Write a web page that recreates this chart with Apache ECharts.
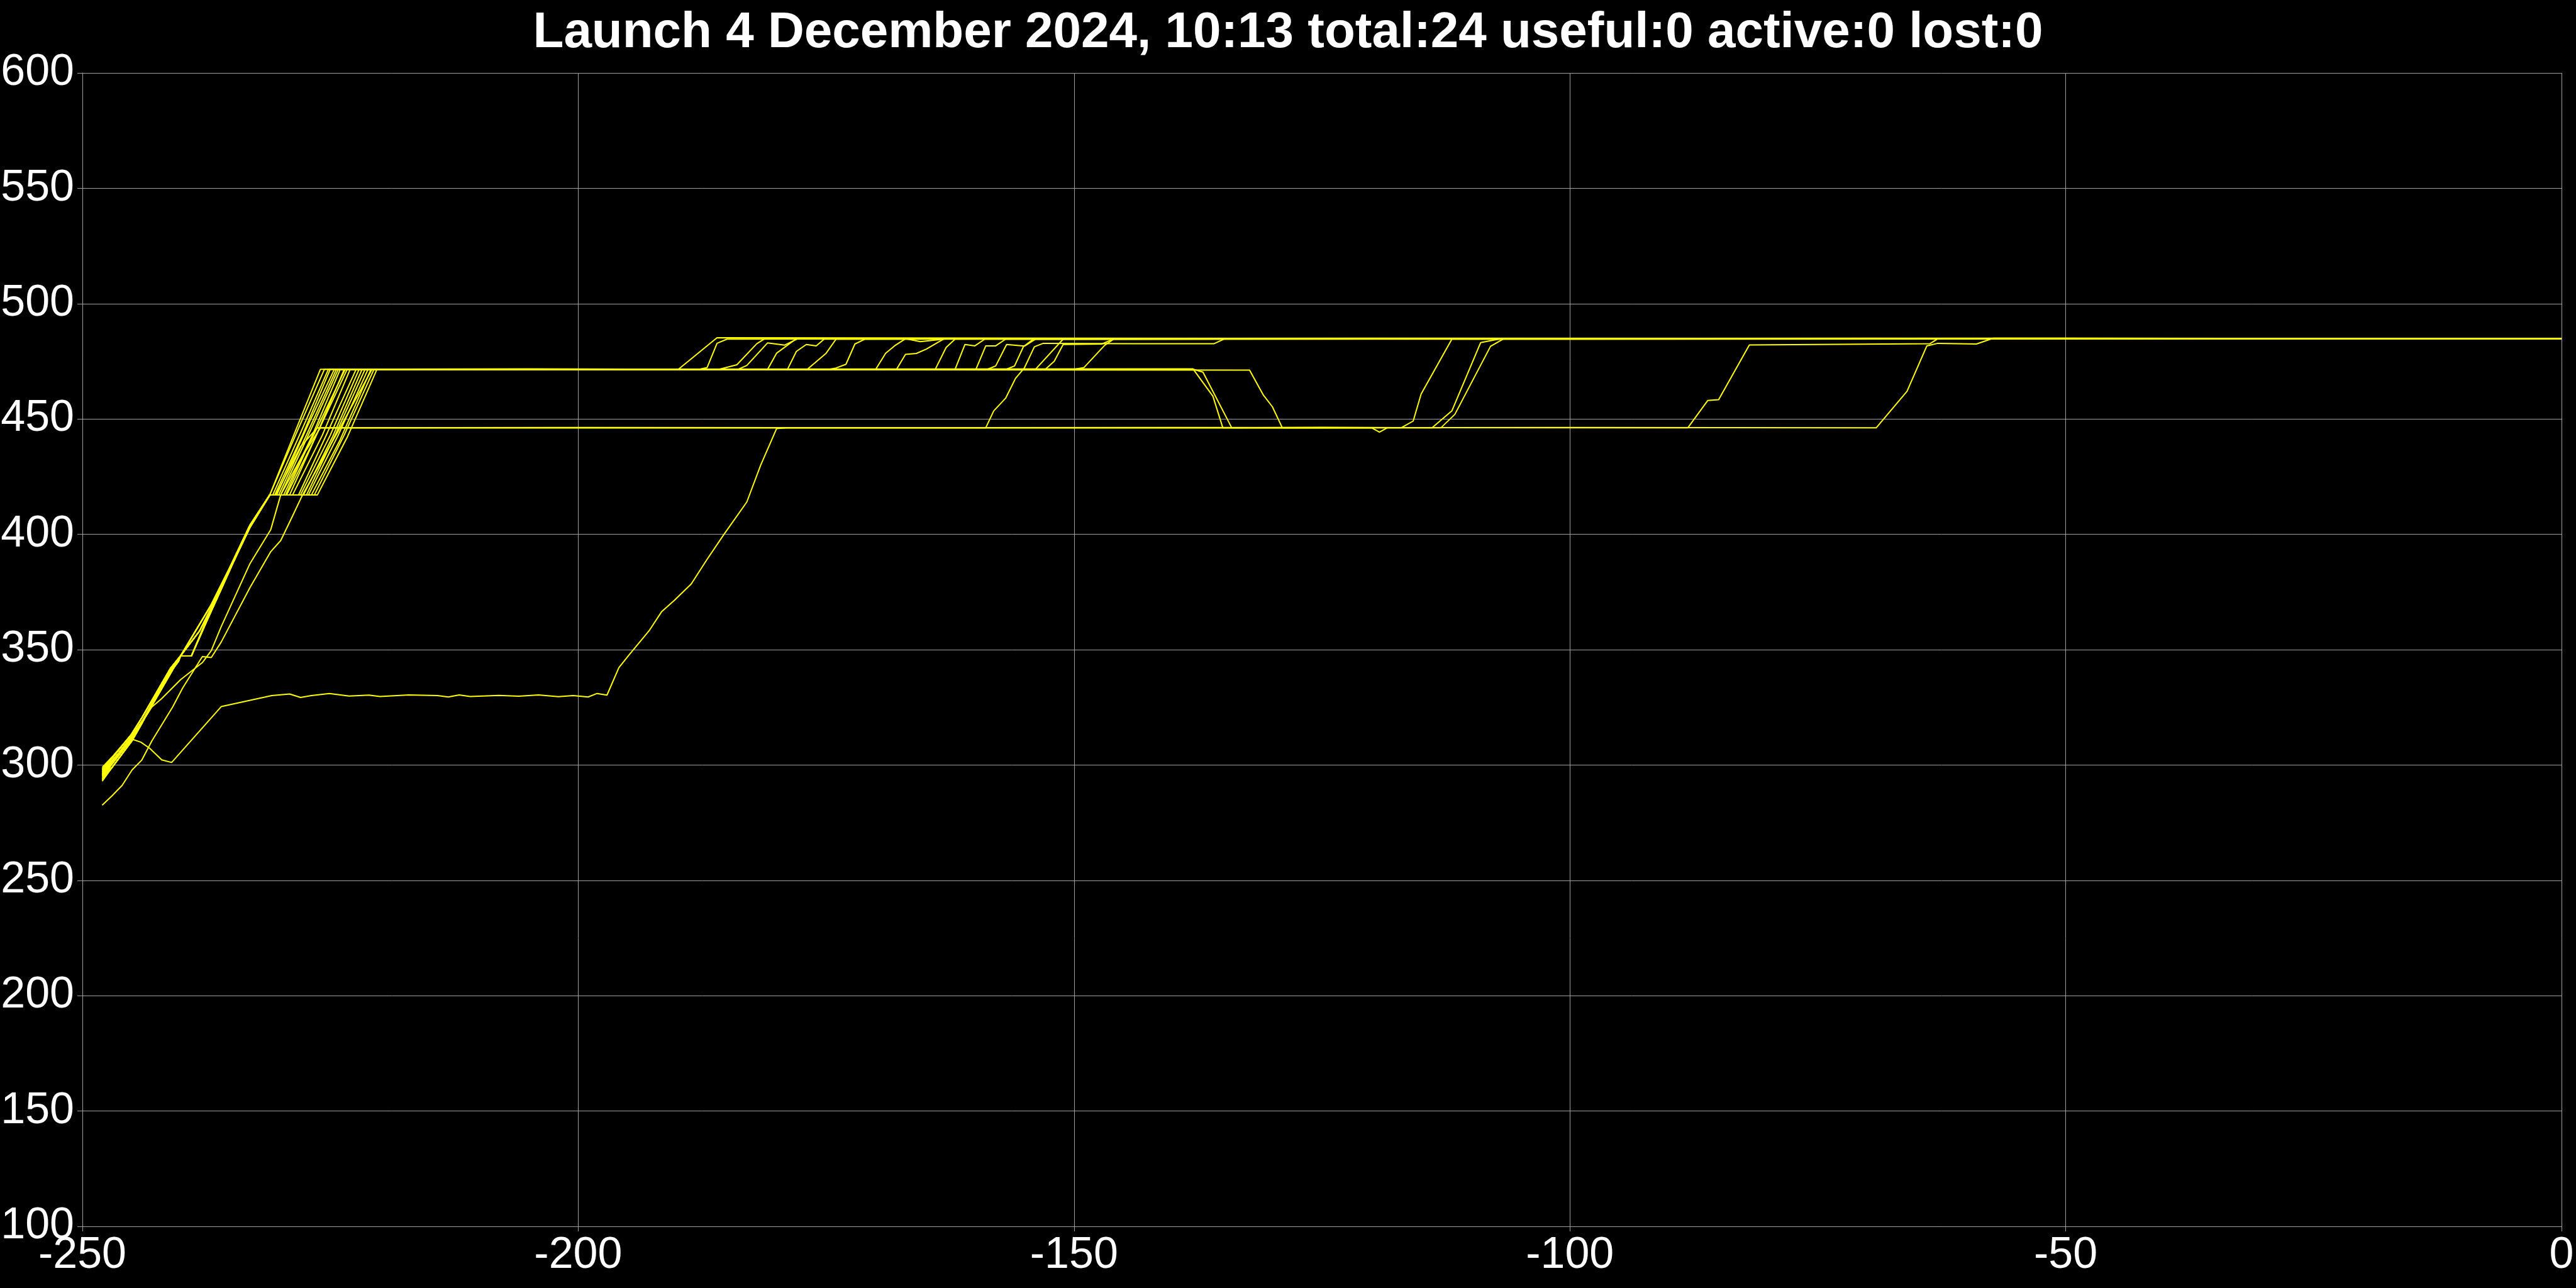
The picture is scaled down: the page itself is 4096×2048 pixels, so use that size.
<!DOCTYPE html>
<html>
<head>
<meta charset="utf-8">
<script src="https://cdn.jsdelivr.net/npm/echarts@6/dist/echarts.min.js"></script>
<style>
html,body{margin:0;padding:0;background:#000;}
#chart{width:4096px;height:2048px;}
</style>
</head>
<body>
<div id="chart"></div>
<script>
// ---- chart text and axes ----
const titleText = 'Launch 4 December 2024, 10:13 total:24 useful:0 active:0 lost:0';
const xRange = [-250, 0];
const xStep = 50;
const yRange = [100, 600];
const yStep = 50;

// ---- tracks: [x, y] ----
const s01 = [[-248,298.5],[-247,303],[-245.1,313],[-244,320.5],[-241.1,342],[-240.1,347.3],[-237,369.5],[-235.2,385],[-233.1,404],[-231.1,417.1],[-228.5,445],[-226.0,471.5],[-205,471.7],[-189.9,471.5],[-186.0,485.2],[-150,485.0],[-100,484.8],[-50,485.0],[0,484.8]];
const s02 = [[-248,294],[-247,300.5],[-245,311.5],[-243.9,319],[-241,340.5],[-240.1,347.3],[-239,347.3],[-236.9,368.8],[-235.2,384.3],[-233.1,403.6],[-231.1,417.1],[-231.0,417.1],[-228.2,446],[-225.6,471.5],[-187.8,471.5],[-187.0,472.3],[-186.0,482.8],[-185.0,484.6],[-140,484.9],[-80,484.7],[0,484.8]];
const s03 = [[-248,296],[-247,301.5],[-245.1,312],[-243.9,319.5],[-241.5,338],[-240.3,345],[-240.1,347.3],[-238.2,358],[-236.9,369],[-235,386],[-233.1,403],[-231.1,417.1],[-230.8,417.1],[-228.0,444],[-225.2,471.5],[-185.8,471.5],[-184.0,473.5],[-182.0,482.6],[-181.2,484.8],[-120,485.0],[0,484.8]];
const s04 = [[-248,298],[-247,303],[-245.1,313],[-244,320.5],[-241.1,342],[-240.1,347.3],[-237,369.5],[-235.2,385],[-233.1,404],[-231.1,417.1],[-230.6,417.1],[-227.8,443],[-225.0,471.6],[-183.9,471.5],[-183.0,473.2],[-180.9,483],[-179.2,482],[-177.8,484.9],[-90,484.7],[0,484.9]];
const s05 = [[-248,293.5],[-247,299],[-245,310.5],[-244,318],[-241.8,336.5],[-240.1,347.3],[-239,347.3],[-237.5,362],[-235.5,381],[-233.4,401],[-231.1,417.1],[-230.4,417.1],[-227.4,446],[-224.6,471.5],[-180.9,471.5],[-180.0,478.5],[-178.0,484.8],[-60,484.8],[0,484.7]];
const s06 = [[-248,295],[-247,300.5],[-245,311.5],[-243.9,319],[-241,340.5],[-240.1,347.3],[-239,347.3],[-236.9,368.8],[-235.2,384.3],[-233.1,403.6],[-231.1,417.1],[-230.2,417.1],[-227.3,444],[-224.4,471.4],[-178.9,471.5],[-178.0,479.3],[-177.0,482.3],[-176.0,481.7],[-175.2,484.6],[-110,484.9],[0,484.8]];
const s07 = [[-248,297],[-247,301.5],[-245.1,312],[-243.9,319.5],[-241.5,338],[-240.3,345],[-240.1,347.3],[-238.2,358],[-236.9,369],[-235,386],[-233.1,403],[-231.1,417.1],[-230.0,417.1],[-227.0,445],[-224.2,471.5],[-176.9,471.5],[-175.0,478.5],[-174.0,484.6],[-70,485.0],[0,484.8]];
const s08 = [[-248,299],[-247,303.5],[-245.1,313],[-244,320.5],[-241.1,342],[-240.1,347.3],[-237,369.5],[-235.2,385],[-233.1,404],[-231.1,417.1],[-229.7,417.1],[-226.8,443],[-224.0,471.5],[-174.6,471.6],[-174.0,472.1],[-173.0,473.7],[-172.1,482.5],[-171.1,484.6],[-130,484.8],[0,484.9]];
const s09 = [[-248,294.5],[-247,299],[-245,310.5],[-244,318],[-241.8,336.5],[-240.1,347.3],[-239,347.3],[-237.5,362],[-235.5,381],[-233.4,401],[-231.1,417.1],[-229.4,417.1],[-226.5,442],[-223.6,471.5],[-170.0,471.5],[-169.0,478.5],[-168.1,481.7],[-167.0,484.8],[-165.5,483.5],[-163.0,484.7],[-50,484.8],[0,484.8]];
const s10 = [[-248,296.5],[-247,300.5],[-245,311.5],[-243.9,319],[-241,340.5],[-240.1,347.3],[-239,347.3],[-236.9,368.8],[-235.2,384.3],[-233.1,403.6],[-231.1,417.1],[-229.1,417.1],[-226.3,444],[-223.3,471.5],[-167.9,471.5],[-167.0,478.0],[-165.9,478.4],[-164.9,480.3],[-163.1,484.8],[-100,484.6],[0,484.8]];
const s11 = [[-248,295.5],[-247,301.5],[-245.1,312],[-243.9,319.5],[-241.5,338],[-240.3,345],[-240.1,347.3],[-238.2,358],[-236.9,369],[-235,386],[-233.1,403],[-231.1,417.1],[-228.8,417.1],[-225.8,443],[-223.0,471.5],[-164.0,471.5],[-162.9,481],[-162.0,484.6],[-40,484.9],[0,484.8]];
const s12 = [[-248,296],[-247,302],[-245,312],[-243.9,319],[-243,325.1],[-242,328.8],[-240.1,337],[-237.9,344.4],[-237,349.6],[-236,360],[-233.1,387.3],[-231,402.1],[-230,417.1],[-226.8,442],[-223.5,471.5],[-162.0,471.5],[-161.0,482.3],[-160.0,481.7],[-159.0,484.6],[-80,484.8],[0,484.8]];
const s13 = [[-248,297.5],[-247,303],[-245.1,313],[-244,320.5],[-241.1,342],[-240.1,347.3],[-237,369.5],[-235.2,385],[-233.1,404],[-231.1,417.1],[-228.2,417.1],[-225.3,444],[-222.4,471.5],[-159.9,471.5],[-158.9,481.7],[-157.9,481.7],[-156.9,484.6],[-20,484.8],[0,484.8]];
const s14 = [[-248,293],[-247,299],[-245,310.5],[-244,318],[-241.8,336.5],[-240.1,347.3],[-239,347.3],[-237.5,362],[-235.5,381],[-233.4,401],[-231.1,417.1],[-228.0,417.1],[-225.0,443],[-222.1,471.5],[-158.7,471.6],[-157.9,473],[-156.8,482.3],[-155.0,481.6],[-153.9,484.6],[-75,484.9],[0,484.8]];
const s15 = [[-248,294],[-247,300.5],[-245,311.5],[-243.9,319],[-241,340.5],[-240.1,347.3],[-239,347.3],[-236.9,368.8],[-235.2,384.3],[-233.1,403.6],[-231.1,417.1],[-227.7,417.1],[-224.8,442],[-221.8,471.5],[-156.8,471.6],[-156.0,473],[-155.1,481.4],[-154.1,484.6],[-30,484.7],[0,484.8]];
const s16 = [[-248,296],[-247,301.5],[-245.1,312],[-243.9,319.5],[-241.5,338],[-240.3,345],[-240.1,347.3],[-238.2,358],[-236.9,369],[-235,386],[-233.1,403],[-231.1,417.1],[-227.4,417.1],[-224.4,444],[-221.5,471.5],[-153.9,471.5],[-151.1,484.6],[-95,484.9],[0,484.8]];
const s17 = [[-248,298],[-247,303],[-245.1,313],[-244,320.5],[-241.1,342],[-240.1,347.3],[-237,369.5],[-235.2,385],[-233.1,404],[-231.1,417.1],[-227.2,417.1],[-224.2,443],[-221.2,471.5],[-152.9,471.5],[-152.0,475],[-151.1,482.3],[-147.2,482.5],[-146.0,484.7],[-55,484.8],[0,484.9]];
const s18 = [[-248,295],[-247,299],[-245,310.5],[-244,318],[-241.8,336.5],[-240.1,347.3],[-239,347.3],[-237.5,362],[-235.5,381],[-233.4,401],[-231.1,417.1],[-226.9,417.1],[-224.0,441],[-220.9,471.5],[-150.0,471.5],[-149.0,472.3],[-146.9,482],[-146.0,484.6],[-65,484.8],[0,484.8]];
const s19 = [[-248,295.5],[-247,300.5],[-245,311.5],[-243.9,319],[-241,340.5],[-240.1,347.3],[-239,347.3],[-236.9,368.8],[-235.2,384.3],[-233.1,403.6],[-231.1,417.1],[-226.6,417.1],[-223.6,443],[-220.6,471.5],[-138.0,471.7],[-136.0,459.9],[-135.0,446.2],[-125,446.4],[-113.9,446.2],[-111.9,453.5],[-109.0,483.1],[-107.1,484.7],[-45,484.8],[0,484.8]];
const s20 = [[-248,297],[-247,301.5],[-245.1,312],[-243.9,319.5],[-241.5,338],[-240.3,345],[-240.1,347.3],[-238.2,358],[-236.9,369],[-235,386],[-233.1,403],[-231.1,417.1],[-226.3,417.1],[-223.3,442],[-220.3,471.5],[-138.0,471.6],[-137.0,470.3],[-134.1,446.2],[-113.0,446.2],[-111.6,452],[-108.0,481.5],[-106.7,484.7],[-35,484.9],[0,484.8]];
const s21 = [[-248,282.6],[-247,286.7],[-246,291.1],[-245,297.8],[-244,302.2],[-243,310.4],[-240.9,325.1],[-239.9,333.3],[-237.9,347],[-237,346.6],[-236,353.3],[-233.1,376.9],[-231,392.5],[-230,397.3],[-228.8,408],[-227.8,417.1],[-224.3,444],[-220.8,471.5],[-132.3,471.2],[-130.9,460.3],[-130.0,455.3],[-129.0,446.2],[-100,446.3],[-69.1,446.2],[-66.0,462],[-64.0,481.7],[-62.9,482.8],[-59.0,482.5],[-57.3,485],[0,484.8]];
const s22 = [[-248,293.5],[-247,299],[-245,310.5],[-244,318],[-241.8,336.5],[-240.1,347.3],[-239,347.3],[-237.5,362],[-235.5,381],[-233.4,401],[-231.1,417.1],[-229.5,417.1],[-227.5,436],[-226.0,446.2],[-200,446.3],[-158.9,446.2],[-158.1,453.5],[-156.9,459],[-155.9,467.6],[-155.0,472.2],[-154.0,481.3],[-153.1,482.8],[-144,482.6],[-135.9,482.6],[-134.8,484.8],[0,484.8]];
const s23 = [[-248,297],[-247,303],[-245.1,313],[-244,320.5],[-241.1,342],[-240.1,347.3],[-237,369.5],[-235.2,385],[-233.1,404],[-231.1,417.1],[-230.5,417.1],[-228.0,438],[-226.3,446.2],[-170,446.1],[-120.0,446.2],[-119.2,444.3],[-118.4,446.2],[-117.0,446.2],[-115.8,449.1],[-115.0,460.8],[-111.9,484.6],[-25,484.8],[0,484.8]];
const s24 = [[-248,297],[-247,302],[-245.05,311.3],[-244.1,309.9],[-243.2,307.2],[-242.0,302.2],[-241.0,301.1],[-236.0,325.3],[-230.9,330.1],[-229.1,330.8],[-228.0,329.3],[-226.9,330.1],[-225.1,331.0],[-223.1,329.9],[-221.1,330.3],[-220.0,329.7],[-217.1,330.4],[-214.2,330.1],[-213.1,329.5],[-212.0,330.4],[-210.9,329.7],[-208,330.2],[-206,329.8],[-204,330.4],[-202,329.6],[-200.5,330.1],[-199.0,329.5],[-198.1,331.0],[-197.1,330.3],[-195.9,342.2],[-194.9,347.6],[-192.8,358.5],[-191.6,366.4],[-190.3,371.4],[-188.6,378.5],[-187,389.2],[-185.3,400],[-183.0,414],[-181.6,430],[-180.0,445.8],[-179.0,446.2],[-140,446.3],[-88.1,446.2],[-86.1,458],[-85.0,458.4],[-81.9,482.1],[-63.7,482.6],[-62.9,484.8],[0,484.8]];

const tracks = [s01,s02,s03,s04,s05,s06,s07,s08,s09,s10,s11,s12,s13,s14,s15,s16,s17,s18,s19,s20,s21,s22,s23,s24];

const chart = echarts.init(document.getElementById('chart'), null, {renderer: 'canvas'});
const gridColor = '#a0a0a0';
const labelFont = {color: '#ffffff', fontSize: 70, fontFamily: 'Liberation Sans'};

chart.setOption({
  backgroundColor: '#000000',
  animation: false,
  title: {
    text: titleText,
    left: 'center',
    top: 8,
    textStyle: {color: '#ffffff', fontSize: 80, fontWeight: 'bold', fontFamily: 'Liberation Sans'}
  },
  grid: {left: 131, right: 23, top: 116, bottom: 98, containLabel: false, outerBoundsMode: 'none'},
  xAxis: {
    type: 'value', min: xRange[0], max: xRange[1], interval: xStep,
    axisLine: {show: true, onZero: false, lineStyle: {color: gridColor, width: 1}},
    axisTick: {show: true, length: 8, lineStyle: {color: gridColor, width: 1}},
    splitLine: {show: true, lineStyle: {color: gridColor, width: 1}},
    axisLabel: Object.assign({margin: 12}, labelFont)
  },
  yAxis: {
    type: 'value', min: yRange[0], max: yRange[1], interval: yStep,
    axisLine: {show: true, onZero: false, lineStyle: {color: gridColor, width: 1}},
    axisTick: {show: true, length: 8, lineStyle: {color: gridColor, width: 1}},
    splitLine: {show: true, lineStyle: {color: gridColor, width: 1}},
    axisLabel: Object.assign({margin: 13}, labelFont)
  },
  series: tracks.map((t, i) => ({
    name: 'track ' + (i + 1),
    type: 'line',
    data: t,
    showSymbol: false,
    symbol: 'none',
    silent: true,
    lineStyle: {color: '#ffff00', width: 2}
  }))
});
</script>
</body>
</html>
